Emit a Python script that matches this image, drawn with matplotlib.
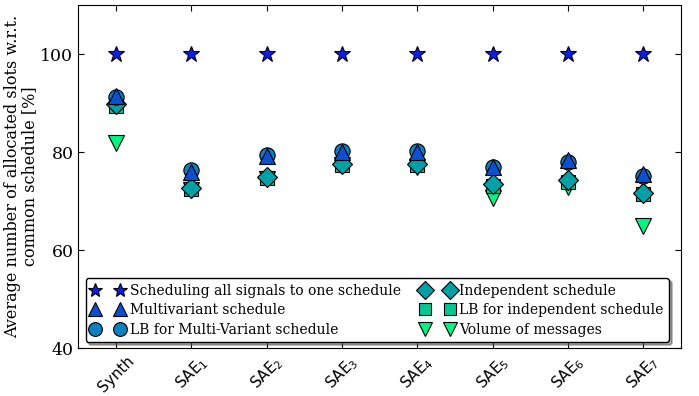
import numpy as np
import matplotlib
matplotlib.use('Agg')
import matplotlib.pyplot as plt

plt.rcParams['font.family'] = 'DejaVu Serif'
plt.rcParams['mathtext.fontset'] = 'dejavusans'

labels = ['Synth', 'SAE$_1$', 'SAE$_2$', 'SAE$_3$', 'SAE$_4$', 'SAE$_5$', 'SAE$_6$', 'SAE$_7$']

one_schedule = [100, 100, 100, 100, 100, 100, 100, 100]
multivariant = [91.5, 76.0, 79.3, 80.0, 80.0, 77.0, 78.3, 75.6]
lb_multivariant = [91.2, 76.3, 79.5, 80.2, 80.2, 76.9, 78.0, 75.1]
independent = [89.9, 72.7, 74.9, 77.6, 77.5, 73.4, 74.3, 71.6]
lb_independent = [89.4, 72.5, 74.7, 77.4, 77.3, 73.0, 74.0, 71.4]
volume = [81.8, 72.3, 74.5, 77.3, 77.0, 70.7, 72.8, 65.0]

names = ['Scheduling all signals to one schedule', 'Multivariant schedule',
         'LB for Multi-Variant schedule', 'Independent schedule',
         'LB for independent schedule', 'Volume of messages']
series = [one_schedule, multivariant, lb_multivariant, independent, lb_independent, volume]
markers = ['*', '^', 'o', 'D', 's', 'v']
sizes = [12, 11, 11, 10, 10, 11]
colors = ['#0a1ee6', '#0a50d2', '#0a80c0', '#00a0a6', '#00c894', '#00f582']
zorders = [8, 7, 6, 5, 4, 3]

fig = plt.figure(figsize=(6.99, 3.96), dpi=100)
ax = fig.add_axes([0.112, 0.121, 0.862, 0.866])

x = np.arange(len(labels))
for vals, name, m, s, c, z in zip(series, names, markers, sizes, colors, zorders):
    ax.plot(x, vals, linestyle='none', marker=m, markersize=s, color=c,
            markeredgecolor='black', markeredgewidth=0.8, label=name, zorder=z)

ax.set_xlim(-0.5, 7.5)
ax.set_ylim(40, 110)
ax.set_yticks([40, 60, 80, 100])
ax.set_xticks(x)
ax.set_xticklabels(labels, rotation=45, fontfamily='DejaVu Sans', fontsize=11)
ax.tick_params(axis='y', labelsize=12.5)
ax.tick_params(direction='in', top=True, right=True, length=4)
ax.set_ylabel('Average number of allocated slots w.r.t.\ncommon schedule [%]',
              fontsize=11.5, linespacing=1.0, labelpad=2)

leg = ax.legend(loc='lower left', ncol=2, numpoints=2, fontsize=10,
                bbox_to_anchor=(0.012, 0.017), markerscale=0.9,
                shadow=True, fancybox=True, framealpha=1, borderaxespad=0,
                handletextpad=0.4, labelspacing=0.4, handlelength=2.4,
                borderpad=0.4, columnspacing=1.4)
leg.get_frame().set_edgecolor('black')

fig.savefig('out.png', dpi=100)
